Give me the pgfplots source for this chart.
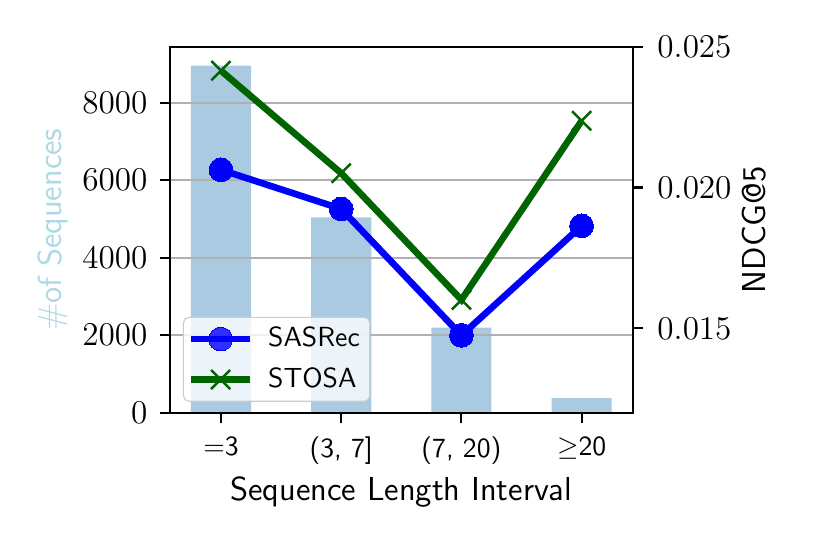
\documentclass[border=0pt]{standalone}
\usepackage{fontspec}
\usepackage{pgfplots}
\pgfplotsset{compat=1.18}
\definecolor{barblue}{RGB}{169,202,225}
\definecolor{lblue}{RGB}{173,216,230}
\definecolor{dgreen}{RGB}{0,100,0}
\begin{document}
\begin{tikzpicture}
\path[use as bounding box] (0,0) rectangle (300pt,197.3pt);
\begin{axis}[
 at={(61.4pt,48.1pt)}, anchor=south west,
 scale only axis, width=167.3pt, height=132.3pt,
 xmin=-0.425, xmax=3.425, ymin=0, ymax=9445,
 xtick={0,1,2,3}, xticklabels={{$=$3},{(3, 7]},{(7, 20)},{$\geq$20}},
 x tick label style={font=\sffamily\fontsize{10}{12}\selectfont, yshift=-1.4pt},
 ytick={0,2000,4000,6000,8000},
 /pgf/number format/1000 sep={},
 y tick label style={font=\fontsize{12}{14}\selectfont, xshift=-1pt},
 ymajorgrids, grid style={draw=black!31, line width=0.6pt},
 axis on top,
 tick align=outside, major tick length=3.6pt,
 xtick pos=bottom, ytick pos=left,
 axis line style={line width=0.75pt}, tick style={line width=0.75pt, black},
 xlabel={Sequence Length Interval}, xlabel style={font=\sffamily\fontsize{12}{14}\selectfont, yshift=2.4pt},
 ylabel={\#of Sequences}, ylabel style={font=\sffamily\fontsize{12}{14}\selectfont, color=lblue, yshift=-1.5pt},
]
\addplot[ybar, bar width=0.5, fill=barblue, draw=none] coordinates {(0,8955)(1,5040)(2,2200)(3,380)};
\end{axis}
\begin{axis}[
 at={(61.4pt,48.1pt)}, anchor=south west,
 scale only axis, width=167.3pt, height=132.3pt,
 xmin=-0.425, xmax=3.425, ymin=0.012, ymax=0.025,
 hide x axis, axis y line*=right,
 ytick={0.015,0.020,0.025}, scaled y ticks=false,
 y tick label style={font=\fontsize{12}{14}\selectfont, xshift=1.8pt, /pgf/number format/.cd, fixed, fixed zerofill, precision=3},
 tick align=outside, major tick length=3.6pt,
 axis line style={line width=0.75pt}, tick style={line width=0.75pt, black},
 ylabel={NDCG@5}, ylabel style={font=\sffamily\fontsize{12}{14}\selectfont, yshift=3.2pt},
 legend style={at={(0.028,0.03)}, anchor=south west, draw=black!20, rounded corners=2pt, fill=white, fill opacity=0.8, text opacity=1, font=\sffamily\fontsize{10}{12}\selectfont, row sep=2pt, column sep=3.3pt, inner xsep=1.6pt, inner ysep=1.5pt},
 legend cell align=left,
 legend image code/.code={\draw[mark repeat=2,mark phase=2,#1] plot coordinates {(0cm,0cm) (0.375cm,0cm) (0.75cm,0cm)};},
]
\addplot[blue, line width=2.4pt, mark=*, mark size=4.3pt, mark options={solid, line width=0pt}] coordinates {(0,0.02063)(1,0.01924)(2,0.01475)(3,0.01864)};
\addlegendentry{SASRec}
\addplot[dgreen, line width=2.4pt, mark=x, mark size=4.9pt, mark options={solid, line width=0.9pt}] coordinates {(0,0.02415)(1,0.02051)(2,0.01601)(3,0.02237)};
\addlegendentry{STOSA}
\end{axis}
\end{tikzpicture}
\end{document}
